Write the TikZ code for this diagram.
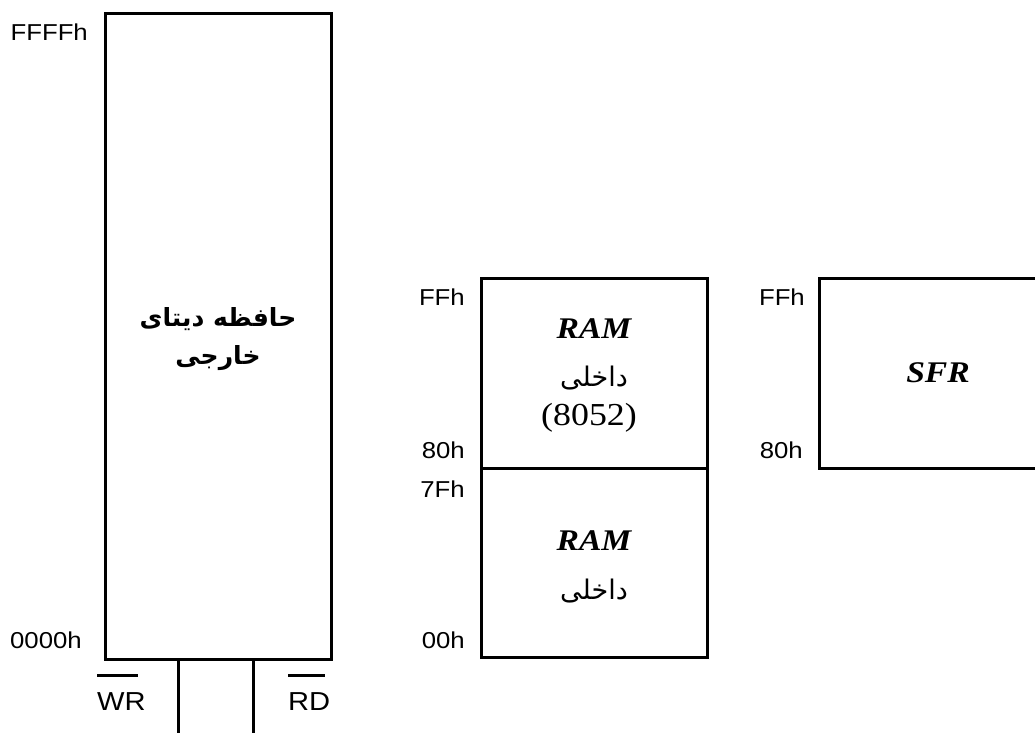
\documentclass[tikz,border=0pt]{standalone}
\usepackage{fontspec}
\usetikzlibrary{calc}
\TeXXeTstate=1
\newfontfamily\lab[FakeStretch=1.12]{Liberation Sans}
\newfontfamily\tim[FakeStretch=1.12]{Liberation Serif}
\newfontfamily\fa[Script=Arabic]{DejaVu Sans}
\tikzset{
  box/.style={draw, line width=3pt, anchor=north west, inner sep=0pt, outer sep=0pt},
  addr/.style={font=\lab\fontsize{23}{25}\selectfont, inner sep=0pt, anchor=base east},
  sig/.style={font=\lab\fontsize{26}{28}\selectfont, inner sep=0pt, anchor=base west},
  bar/.style={line width=3pt},
  wire/.style={line width=3pt},
  ram/.style={font=\tim\bfseries\itshape\fontsize{30}{32}\selectfont, inner sep=0pt, anchor=base},
  fatext/.style={font=\fa\fontsize{27}{30}\selectfont, inner sep=0pt},
}
\begin{document}
\begin{tikzpicture}[x=1pt,y=-1pt]
\useasboundingbox (0,0) rectangle (1035,732);
% external data memory
\node[box, minimum width=226pt, minimum height=646pt] (ext) at (105,13) {};
\node[fatext, font=\fa\bfseries\fontsize{25}{38}\selectfont, align=center] (extt) at (218,339)
  {\beginR حافظه دیتای\endR\\\beginR خارجی\endR};
\node[addr] (a1) at (88,40) {FFFFh};
\node[addr] (a2) at (82,648) {0000h};
% control lines
\coordinate (wend) at (178,740);
\coordinate (rend) at (253,740);
\draw[wire] (ext.south -| wend) -- (wend);
\draw[wire] (ext.south -| rend) -- (rend);
\node[sig] (wr) at (97,710) {WR};
\node[sig] (rd) at (288,710) {RD};
\draw[bar] ($(wr.base west)+(0,-35)$) -- ($(wr.base west)+(41,-35)$);
\draw[bar] ($(rd.base west)+(0,-35)$) -- ($(rd.base west)+(37,-35)$);
% internal RAM
\node[box, minimum width=226pt, minimum height=189pt] (ramlo) at (481,468) {};
\node[box, minimum width=226pt, minimum height=190pt] (ramhi) at (481,278) {};
\node[ram] (r1) at (594,338) {RAM};
\node[fatext] (d1) at (594,378) {\beginR داخلی\endR};
\node[inner sep=0pt, anchor=base, font=\tim\fontsize{32}{34}\selectfont] (n1) at (589,425) {(8052)};
\node[ram] (r2) at (594,550) {RAM};
\node[fatext] (d2) at (594,591) {\beginR داخلی\endR};
\node[addr] (b1) at (465,305) {FFh};
\node[addr] (b2) at (465,458) {80h};
\node[addr] (b3) at (465,497) {7Fh};
\node[addr] (b4) at (465,648) {00h};
% SFR
\coordinate (sfrtr) at (1040,278);
\coordinate (sfrbr) at (1040,468);
\coordinate (sfrtl) at (819,278);
\coordinate (sfrbl) at (819,468);
\draw[line width=3pt] (sfrtr) -- (sfrtl) -- (sfrbl) -- (sfrbr);
\node[ram] (s1) at (938,382) {SFR};
\node[addr] (c1) at (805,305) {FFh};
\node[addr] (c2) at (803,458) {80h};
\end{tikzpicture}
\end{document}
